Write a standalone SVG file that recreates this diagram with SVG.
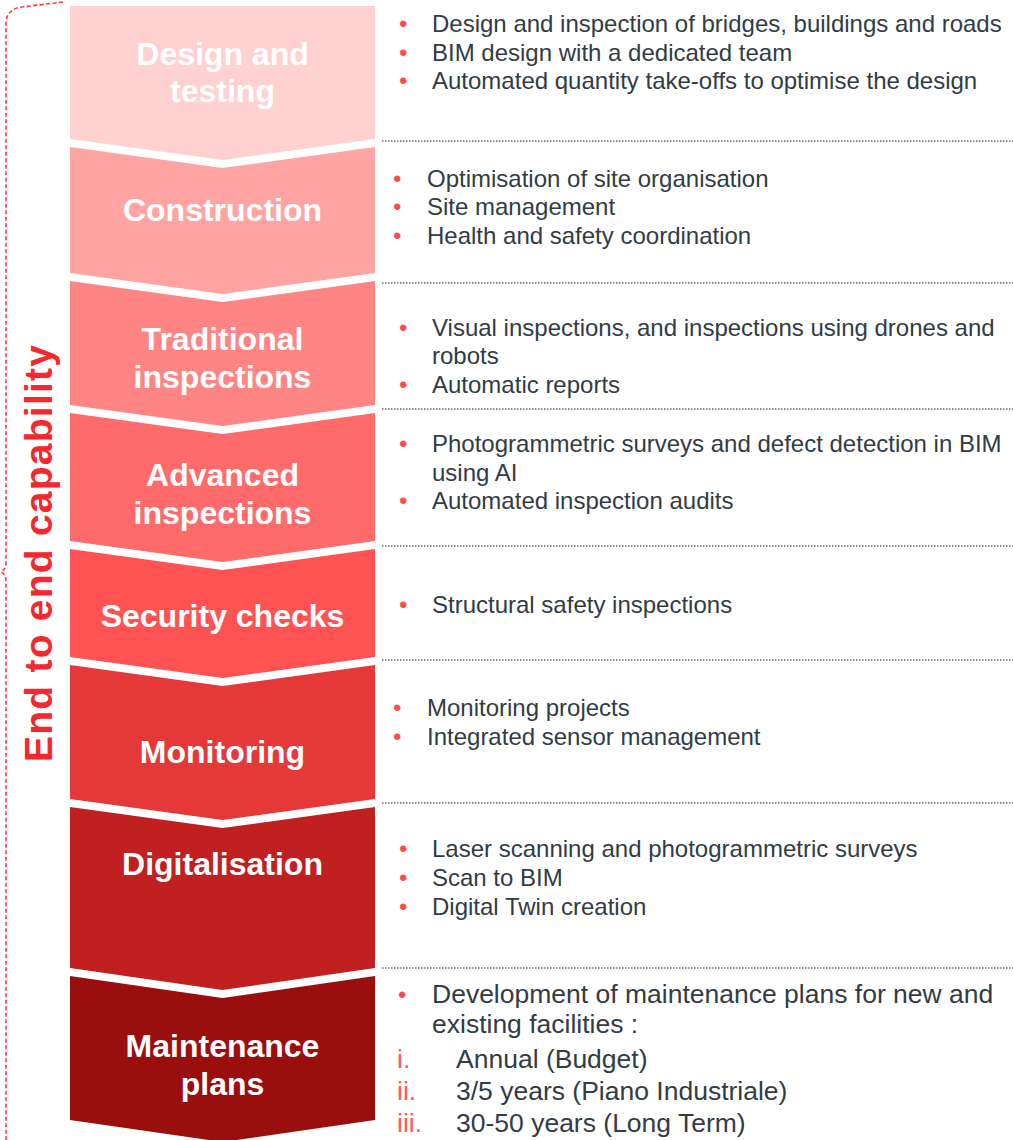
<svg xmlns="http://www.w3.org/2000/svg" width="1013" height="1140" viewBox="0 0 1013 1140">
  <style>
    .lbl { font-family: "Liberation Sans", Arial, sans-serif; font-weight: bold; font-size: 32px; fill: #FFFFFF; text-anchor: middle; }
    .txt { font-family: "Liberation Sans", Arial, sans-serif; font-size: 24px; fill: #313C45; }
    .big { font-size: 26.5px; }
    .bul { font-family: "Liberation Sans", Arial, sans-serif; font-size: 24px; fill: #FF4B4B; }
    .rom { font-family: "Liberation Sans", Arial, sans-serif; font-size: 26.5px; fill: #FF5A5A; }
    .sep { stroke: #666A6E; stroke-width: 1.5; stroke-dasharray: 1.5 1.5; fill: none; }
    .brace { stroke: #FF3B3B; stroke-width: 1.6; stroke-dasharray: 4 2.5; fill: none; }
    .side { font-family: "Liberation Sans", Arial, sans-serif; font-weight: bold; font-size: 39px; fill: #F4282D; text-anchor: middle; }
  </style>
  <rect width="1013" height="1140" fill="#FFFFFF"/>

  <g id="bracket">
    <path class="brace" d="M63,2 L22,7 Q6,9 6,24 L6,562 Q6,570 1,572 Q6,574 6,582 L6,1140"/>
    <text class="side" transform="translate(52,553.5) rotate(-90)" x="0" y="0" textLength="417" lengthAdjust="spacing">End to end capability</text>
  </g>

  <g id="connectors">
    <line class="sep" x1="382" y1="141" x2="1013" y2="141"/>
    <line class="sep" x1="382" y1="283" x2="1013" y2="283"/>
    <line class="sep" x1="382" y1="409" x2="1013" y2="409"/>
    <line class="sep" x1="382" y1="546" x2="1013" y2="546"/>
    <line class="sep" x1="382" y1="660" x2="1013" y2="660"/>
    <line class="sep" x1="382" y1="803" x2="1013" y2="803"/>
    <line class="sep" x1="382" y1="968" x2="1013" y2="968"/>
  </g>

  <g id="stage-design">
    <path d="M70,6 H375 V139 L222.5,160 L70,139 Z" fill="#FFD1D1"/>
    <text class="lbl" x="222.5" y="65">Design and</text>
    <text class="lbl" x="222.5" y="102">testing</text>
    <text class="bul" x="399" y="32">•</text><text class="txt" x="432" y="32">Design and inspection of bridges, buildings and roads</text>
    <text class="bul" x="399" y="61">•</text><text class="txt" x="432" y="61">BIM design with a dedicated team</text>
    <text class="bul" x="399" y="89">•</text><text class="txt" x="432" y="89">Automated quantity take-offs to optimise the design</text>
  </g>

  <g id="stage-construction">
    <path d="M70,147 L222.5,168 L375,147 V273 L222.5,294 L70,273 Z" fill="#FFA3A3"/>
    <text class="lbl" x="222.5" y="221">Construction</text>
    <text class="bul" x="393" y="187">•</text><text class="txt" x="427" y="187">Optimisation of site organisation</text>
    <text class="bul" x="393" y="215">•</text><text class="txt" x="427" y="215">Site management</text>
    <text class="bul" x="393" y="244">•</text><text class="txt" x="427" y="244">Health and safety coordination</text>
  </g>

  <g id="stage-traditional">
    <path d="M70,281 L222.5,302 L375,281 V405 L222.5,426 L70,405 Z" fill="#FF8585"/>
    <text class="lbl" x="222.5" y="350">Traditional</text>
    <text class="lbl" x="222.5" y="388">inspections</text>
    <text class="bul" x="399" y="336">•</text><text class="txt" x="432" y="336">Visual inspections, and inspections using drones and</text>
    <text class="txt" x="432" y="364">robots</text>
    <text class="bul" x="399" y="393">•</text><text class="txt" x="432" y="393">Automatic reports</text>
  </g>

  <g id="stage-advanced">
    <path d="M70,413 L222.5,434 L375,413 V541 L222.5,562 L70,541 Z" fill="#FF6B6B"/>
    <text class="lbl" x="222.5" y="486">Advanced</text>
    <text class="lbl" x="222.5" y="524">inspections</text>
    <text class="bul" x="399" y="452">•</text><text class="txt" x="432" y="452">Photogrammetric surveys and defect detection in BIM</text>
    <text class="txt" x="432" y="481">using AI</text>
    <text class="bul" x="399" y="509">•</text><text class="txt" x="432" y="509">Automated inspection audits</text>
  </g>

  <g id="stage-security">
    <path d="M70,549 L222.5,570 L375,549 V657 L222.5,678 L70,657 Z" fill="#FF5252"/>
    <text class="lbl" x="222.5" y="627">Security checks</text>
    <text class="bul" x="399" y="613">•</text><text class="txt" x="432" y="613">Structural safety inspections</text>
  </g>

  <g id="stage-monitoring">
    <path d="M70,665 L222.5,686 L375,665 V799 L222.5,820 L70,799 Z" fill="#E53838"/>
    <text class="lbl" x="222.5" y="763">Monitoring</text>
    <text class="bul" x="393" y="716">•</text><text class="txt" x="427" y="716">Monitoring projects</text>
    <text class="bul" x="393" y="745">•</text><text class="txt" x="427" y="745">Integrated sensor management</text>
  </g>

  <g id="stage-digitalisation">
    <path d="M70,807 L222.5,828 L375,807 V968 L222.5,990 L70,968 Z" fill="#C02020"/>
    <text class="lbl" x="222.5" y="875">Digitalisation</text>
    <text class="bul" x="399" y="857">•</text><text class="txt" x="432" y="857">Laser scanning and photogrammetric surveys</text>
    <text class="bul" x="399" y="886">•</text><text class="txt" x="432" y="886">Scan to BIM</text>
    <text class="bul" x="399" y="915">•</text><text class="txt" x="432" y="915">Digital Twin creation</text>
  </g>

  <g id="stage-maintenance">
    <path d="M70,976 L222.5,998 L375,976 V1120 L222.5,1142 L70,1120 Z" fill="#9A0E0E"/>
    <text class="lbl" x="222.5" y="1057">Maintenance</text>
    <text class="lbl" x="222.5" y="1095">plans</text>
    <text class="bul big" x="398" y="1003">•</text><text class="txt big" x="432" y="1003">Development of maintenance plans for new and</text>
    <text class="txt big" x="432" y="1033">existing facilities :</text>
    <text class="rom" x="397" y="1068">i.</text><text class="txt big" x="456" y="1068">Annual (Budget)</text>
    <text class="rom" x="397" y="1100">ii.</text><text class="txt big" x="456" y="1100">3/5 years (Piano Industriale)</text>
    <text class="rom" x="397" y="1132">iii.</text><text class="txt big" x="456" y="1132">30-50 years (Long Term)</text>
  </g>
</svg>
